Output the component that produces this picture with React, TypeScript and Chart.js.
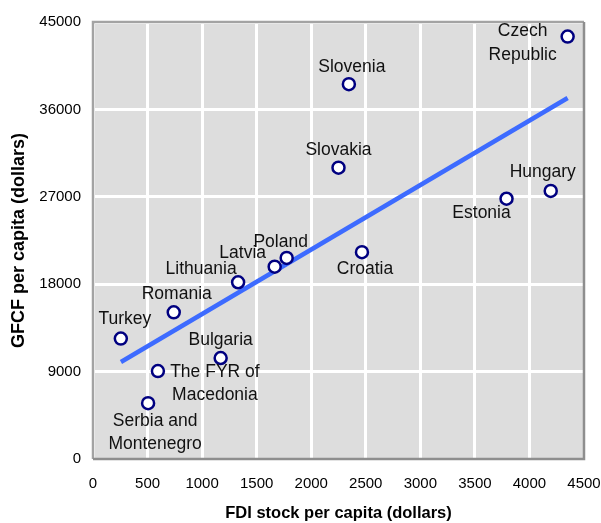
import React, { useEffect, useRef } from "react";
import { Chart, registerables } from "chart.js";

Chart.register(...registerables);

const countries = [
  "Czech Republic", "Slovenia", "Slovakia", "Hungary", "Estonia", "Croatia", "Poland",
  "Latvia", "Lithuania", "Romania", "Turkey", "Bulgaria", "The FYR of Macedonia", "Serbia and Montenegro",
];
const fdiStock = [4350, 2345, 2250, 4195, 3790, 2465, 1775, 1665, 1330, 740, 255, 1170, 595, 505];
const gfcf = [43500, 38600, 30000, 27600, 26800, 21300, 20700, 19800, 18200, 15100, 12400, 10400, 9050, 5750];

const trendX = [256, 4350];
const trendY = [9990, 37170];

const xTicks = [0, 500, 1000, 1500, 2000, 2500, 3000, 3500, 4000, 4500];
const yTicks = [0, 9000, 18000, 27000, 36000, 45000];

// label placement (pixel offsets of the text centre from the marker)
const labelPlacement: { lines: string[]; dx: number; dy: number }[] = [
  { lines: ["Czech", "Republic"], dx: -45, dy: -5 },
  { lines: ["Slovenia"], dx: 3, dy: -17 },
  { lines: ["Slovakia"], dx: 0, dy: -17 },
  { lines: ["Hungary"], dx: -8, dy: -19 },
  { lines: ["Estonia"], dx: -25, dy: 14 },
  { lines: ["Croatia"], dx: 3, dy: 17 },
  { lines: ["Poland"], dx: -6, dy: -16 },
  { lines: ["Latvia"], dx: -32, dy: -14 },
  { lines: ["Lithuania"], dx: -37, dy: -13 },
  { lines: ["Romania"], dx: 3, dy: -18 },
  { lines: ["Turkey"], dx: 4, dy: -19 },
  { lines: ["Bulgaria"], dx: 0, dy: -18 },
  { lines: ["The FYR of", "Macedonia"], dx: 57, dy: 1 },
  { lines: ["Serbia and", "Montenegro"], dx: 7, dy: 18 },
];

const FONT = "'Liberation Sans', Arial, sans-serif";

const plotBg = {
  id: "plotBg",
  beforeDraw(chart: any) {
    const { ctx, chartArea: a } = chart;
    ctx.save();
    ctx.fillStyle = "#dddddd";
    ctx.fillRect(a.left, a.top, a.right - a.left, a.bottom - a.top);
    ctx.restore();
  },
  afterDatasetsDraw(chart: any) {
    const { ctx, chartArea: a } = chart;
    ctx.save();
    ctx.lineWidth = 2.5;
    ctx.strokeStyle = "#a3a3a3";
    ctx.beginPath();
    ctx.moveTo(a.left, a.bottom);
    ctx.lineTo(a.left, a.top);
    ctx.lineTo(a.right, a.top);
    ctx.stroke();
    ctx.strokeStyle = "#8e8e8e";
    ctx.beginPath();
    ctx.moveTo(a.right, a.top);
    ctx.lineTo(a.right, a.bottom);
    ctx.lineTo(a.left, a.bottom);
    ctx.stroke();
    ctx.restore();
  },
};

const pointLabels = {
  id: "pointLabels",
  afterDraw(chart: any) {
    const { ctx } = chart;
    const meta = chart.getDatasetMeta(1);
    ctx.save();
    ctx.font = `17.5px ${FONT}`;
    ctx.fillStyle = "#111111";
    ctx.textAlign = "center";
    ctx.textBaseline = "middle";
    meta.data.forEach((el: any, i: number) => {
      const p = labelPlacement[i];
      if (!p) return;
      p.lines.forEach((line, j) => {
        ctx.fillText(line, el.x + p.dx, el.y + p.dy + j * 23.5);
      });
    });
    ctx.restore();
  },
};

export default function App() {
  const ref = useRef<HTMLCanvasElement | null>(null);
  useEffect(() => {
    document.body.style.margin = "0";
    const canvas = ref.current!;
    const chart = new Chart(canvas, {
      type: "scatter",
      data: {
        datasets: [
          {
            type: "line",
            label: "Trend",
            data: trendX.map((x, i) => ({ x, y: trendY[i] })),
            borderColor: "#3d6bff",
            borderWidth: 4.5,
            pointRadius: 0,
            fill: false,
            order: 2,
          } as any,
          {
            label: "Countries",
            data: countries.map((_, i) => ({ x: fdiStock[i], y: gfcf[i] })),
            pointRadius: 6,
            pointBorderWidth: 2.5,
            pointBackgroundColor: "#ffffff",
            pointBorderColor: "#000080",
            order: 1,
          },
        ],
      },
      options: {
        animation: false,
        responsive: false,
        devicePixelRatio: 1,
        layout: { padding: { top: 22, right: 17, left: 0, bottom: 0 } },
        plugins: { legend: { display: false }, tooltip: { enabled: false } },
        scales: {
          x: {
            type: "linear",
            min: 0,
            max: 4500,
            afterBuildTicks: (s: any) => { s.ticks = xTicks.map((v) => ({ value: v })); },
            afterFit: (s: any) => { s.height = 64; s.paddingLeft = 0; s.paddingRight = 0; },
            grid: { color: "#ffffff", lineWidth: 3, drawTicks: false },
            border: { display: false },
            ticks: {
              color: "#000000", font: { family: FONT, size: 15 }, padding: 16, maxRotation: 0, autoSkip: false,
              callback: (v: any) => String(v),
            },
            title: {
              display: true,
              text: "FDI stock per capita (dollars)",
              color: "#000000",
              font: { family: FONT, size: 16.5, weight: "bold" },
              padding: { top: 0, bottom: 0 },
            },
          },
          y: {
            type: "linear",
            min: 0,
            max: 45000,
            afterBuildTicks: (s: any) => { s.ticks = yTicks.map((v) => ({ value: v })); },
            afterFit: (s: any) => { s.width = 93; s.paddingTop = 0; s.paddingBottom = 0; },
            grid: { color: "#ffffff", lineWidth: 3, drawTicks: false },
            border: { display: false },
            ticks: {
              color: "#000000", font: { family: FONT, size: 15 }, padding: 12, autoSkip: false,
              callback: (v: any) => String(v),
            },
            title: {
              display: true,
              text: "GFCF per capita (dollars)",
              color: "#000000",
              font: { family: FONT, size: 18, weight: "bold" },
              padding: { top: 8, bottom: 0 },
            },
          },
        },
      },
      plugins: [plotBg, pointLabels],
    });
    return () => chart.destroy();
  }, []);
  return (
    <div style={{ position: "fixed", left: 0, top: 0, width: 601, height: 523, background: "#ffffff" }}>
      <canvas ref={ref} width={601} height={523} style={{ width: 601, height: 523, display: "block" }} />
    </div>
  );
}
